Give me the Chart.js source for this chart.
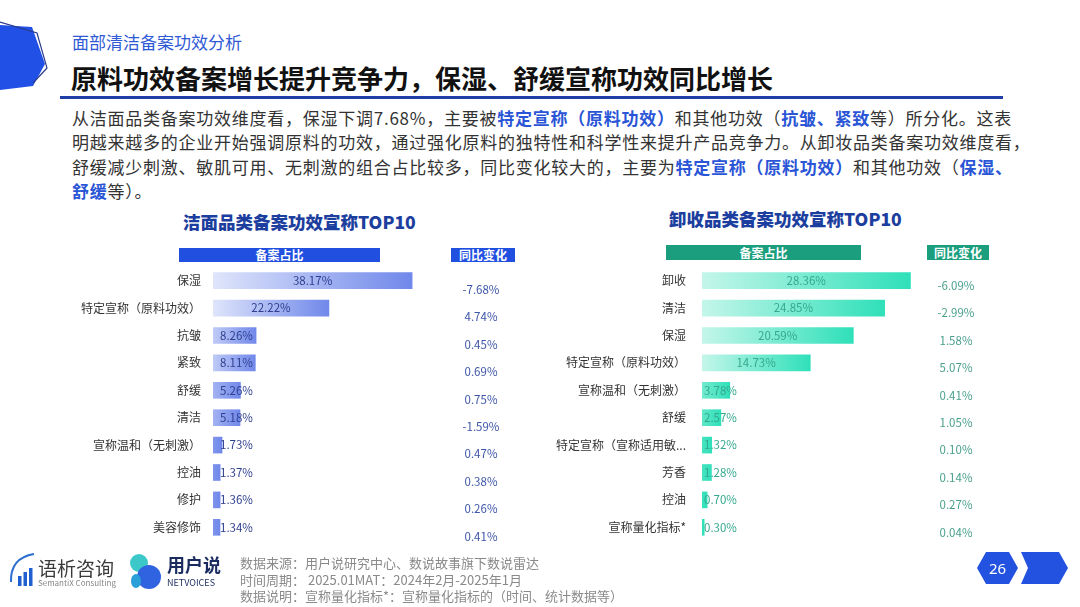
<!DOCTYPE html>
<html lang="zh">
<head>
<meta charset="utf-8">
<script src="https://cdn.jsdelivr.net/npm/chart.js@4.4.1/dist/chart.umd.min.js"></script>
<style>
body { margin: 0; }
#page { position: relative; width: 1080px; height: 607px; overflow: hidden; background: #fff;
  font-family: "Noto Sans CJK SC", "Noto Sans", sans-serif; }
.abs { position: absolute; white-space: nowrap; }
.para { font-size: 17px; letter-spacing: 0.75px; line-height: 24.3px; color: #333; }
.para b { color: #2a55d6; }
.ctitle { font-size: 17.5px; font-weight: 900; color: #1c3e9e; line-height: 20px; }
.hbox { color: #fff; font-size: 12px; font-weight: bold; text-align: center; }
.foot { font-size: 13px; color: #8a8a8a; line-height: 16.5px; }
.chartbox { position: absolute; }
</style>
</head>
<body>
<div id="page">
  <svg class="abs" style="left:0;top:0" width="60" height="100">
    <polygon points="0,25 32,27 45,64 33,86 0,90" fill="#2150e6"/>
    <polyline points="0,22 37,33 47,68 33,83" fill="none" stroke="#2a3d8f" stroke-width="1.2"/>
  </svg>
  <div class="abs" style="left:72px;top:31px;font-size:17px;line-height:22px;color:#2f5ad6;">面部清洁备案功效分析</div>
  <div class="abs" style="left:71px;top:62px;font-size:26px;line-height:32px;font-weight:bold;color:#111;">原料功效备案增长提升竞争力，保湿、舒缓宣称功效同比增长</div>
  <div class="abs" style="left:60px;top:96px;width:943px;height:2.5px;background:#1f3ea8;"></div>

  <div class="abs para" style="left:72px;top:106px;">从洁面品类备案功效维度看，保湿下调7.68%，主要被<b>特定宣称（原料功效）</b>和其他功效（<b>抗皱、紧致</b>等）所分化。这表<br>明越来越多的企业开始强调原料的功效，通过强化原料的独特性和科学性来提升产品竞争力。从卸妆品类备案功效维度看，<br>舒缓减少刺激、敏肌可用、无刺激的组合占比较多，同比变化较大的，主要为<b>特定宣称（原料功效）</b>和其他功效（<b>保湿、</b><br><b>舒缓</b>等）。</div>

  <div class="abs ctitle" style="left:183px;top:212px;">洁面品类备案功效宣称TOP10</div>
  <div class="abs ctitle" style="left:669px;top:209px;">卸收品类备案功效宣称TOP10</div>

  <div class="abs hbox" style="left:179px;top:248px;width:201px;height:14px;line-height:14px;background:#2150e0;">备案占比</div>
  <div class="abs hbox" style="left:451px;top:248px;width:64px;height:14px;line-height:14px;background:#2150e0;">同比变化</div>
  <div class="abs hbox" style="left:666px;top:245px;width:195px;height:15px;line-height:15px;background:#1a9e7e;">备案占比</div>
  <div class="abs hbox" style="left:927px;top:245px;width:62px;height:15px;line-height:15px;background:#1a9e7e;">同比变化</div>

  <div class="chartbox" style="left:0;top:267px;width:540px;height:288px;"><canvas id="jiemian"></canvas></div>
  <div class="chartbox" style="left:540px;top:267px;width:540px;height:288px;"><canvas id="xiezhuang"></canvas></div>

  <svg class="abs" style="left:6px;top:550px" width="32" height="40">
    <path d="M5 32 Q4 8 28 4" fill="none" stroke="#2d6fd0" stroke-width="2"/>
    <rect x="12" y="26" width="3.5" height="10" fill="#1f5fd0"/>
    <rect x="17.5" y="22" width="3.5" height="14" fill="#1f5fd0"/>
    <rect x="23" y="18" width="3.5" height="18" fill="#1f5fd0"/>
  </svg>
  <div class="abs" style="left:38px;top:557px;font-size:19px;line-height:22px;color:#3a3a3a;">语析咨询</div>
  <div class="abs" style="left:38px;top:578px;font-size:8px;line-height:9px;color:#888;">SemantiX Consulting</div>
  <svg class="abs" style="left:126px;top:551px" width="40" height="40">
    <ellipse cx="13" cy="12" rx="9" ry="9" fill="#3cc8c8"/>
    <ellipse cx="23" cy="26" rx="12" ry="12" fill="#2f63e0"/>
    <ellipse cx="10" cy="30" rx="5" ry="7" fill="#2a9fd8"/>
  </svg>
  <div class="abs" style="left:167px;top:553px;font-size:18px;line-height:22px;font-weight:bold;color:#1a2b5f;">用户说</div>
  <div class="abs" style="left:167px;top:578px;font-size:9px;line-height:10px;color:#1a2b5f;">NETVOICES</div>

  <div class="abs foot" style="left:240px;top:555px;">数据来源：用户说研究中心、数说故事旗下数说雷达<br>时间周期： 2025.01MAT：2024年2月-2025年1月<br>数据说明：宣称量化指标*：宣称量化指标的（时间、统计数据等）</div>

  <svg class="abs" style="left:975px;top:550px" width="96" height="36">
    <polygon points="2,18 11,2 34,2 43,18 34,34 11,34" fill="#2452e0"/>
    <polygon points="46,2 84,2 93,18 84,34 46,34 53,18" fill="#2452e0"/>
    <text x="22.5" y="23.5" fill="#fff" font-size="15" text-anchor="middle" font-family="Noto Sans">26</text>
  </svg>
</div>

<script>
const FONT = '"Noto Sans CJK SC", "Noto Sans", sans-serif';

// 洁面
const jmCats = ['保湿', '特定宣称（原料功效）', '抗皱', '紧致', '舒缓', '清洁', '宣称温和（无刺激）', '控油', '修护', '美容修饰'];
const jmShare = [38.17, 22.22, 8.26, 8.11, 5.26, 5.18, 1.73, 1.37, 1.36, 1.34];
const jmYoy = [-7.68, 4.74, 0.45, 0.69, 0.75, -1.59, 0.47, 0.38, 0.26, 0.41];

// 卸妆
const xzCats = ['卸收', '清洁', '保湿', '特定宣称（原料功效）', '宣称温和（无刺激）', '舒缓', '特定宣称（宣称适用敏...', '芳香', '控油', '宣称量化指标*'];
const xzShare = [28.36, 24.85, 20.59, 14.73, 3.78, 2.57, 1.32, 1.28, 0.70, 0.30];
const xzYoy = [-6.09, -2.99, 1.58, 5.07, 0.41, 1.05, 0.10, 0.14, 0.27, 0.04];

function barFill(c, light, dark) {
    const xs = c.chart.scales.x;
    if (!xs || c.raw == null) return dark;
    const x0 = xs.getPixelForValue(0);
    const x1 = xs.getPixelForValue(c.raw);
    if (!isFinite(x0) || !isFinite(x1)) return dark;
    const g = c.chart.ctx.createLinearGradient(Math.min(x0, x1 - 60), 0, x1, 0);
    g.addColorStop(0, light);
    g.addColorStop(1, dark);
    return g;
}

function labelsPlugin(share, yoy, cfg) {
    return {
        id: 'labels',
        afterDatasetsDraw(chart) {
            const ctx = chart.ctx;
            const meta = chart.getDatasetMeta(0);
            ctx.save();
            ctx.font = '11.5px ' + FONT;
            ctx.textBaseline = 'middle';
            ctx.textAlign = 'center';
            meta.data.forEach((bar, i) => {
                const txt = share[i].toFixed(2) + '%';
                const w = ctx.measureText(txt).width;
                const cx = Math.max((bar.base + bar.x) / 2, bar.base + cfg.minOff + w / 2);
                ctx.fillStyle = cfg.valueColor;
                ctx.fillText(txt, cx, bar.y);
                ctx.fillStyle = cfg.yoyColor;
                ctx.fillText(yoy[i].toFixed(2) + '%', cfg.yoyX, bar.y + cfg.yoyDy);
            });
            ctx.restore();
        }
    };
}

function makeChart(id, cats, share, yoy, cfg) {
    const ctx = document.getElementById(id);
    return new Chart(ctx, {
        type: 'bar',
        data: {
            labels: cats,
            datasets: [{
                data: share,
                backgroundColor: c => barFill(c, cfg.light, cfg.dark),
                borderWidth: 0,
                barThickness: 16
            }]
        },
        options: {
            indexAxis: 'y',
            responsive: true,
            maintainAspectRatio: false,
            animation: false,
            layout: { padding: { left: 0, right: cfg.padRight, top: 0, bottom: 14 } },
            plugins: { legend: { display: false }, tooltip: { enabled: false } },
            scales: {
                x: { display: false, min: 0, max: cfg.xMax },
                y: {
                    grid: { display: false, drawTicks: false },
                    border: { display: false },
                    ticks: { color: '#333', font: { size: 12, family: FONT }, padding: cfg.tickPad, autoSkip: false },
                    afterFit: s => { s.width = cfg.axisW; s.paddingTop = 0; s.paddingBottom = 0; }
                }
            }
        },
        plugins: [labelsPlugin(share, yoy, cfg)]
    });
}

makeChart('jiemian', jmCats, jmShare, jmYoy, {
    light: '#dfe5fb', dark: '#7088ea', axisW: 213, tickPad: 12, xMax: 60, padRight: 14,
    minOff: 7, valueColor: '#2f3f8f', yoyColor: '#3d56a8', yoyX: 481, yoyDy: 9
});

makeChart('xiezhuang', xzCats, xzShare, xzYoy, {
    light: '#c4f6ea', dark: '#2fe0b9', axisW: 162, tickPad: 16, xMax: 40, padRight: 84,
    minOff: 2, valueColor: '#35a88e', yoyColor: '#4aa08c', yoyX: 416, yoyDy: 5
});
</script>
</body>
</html>
